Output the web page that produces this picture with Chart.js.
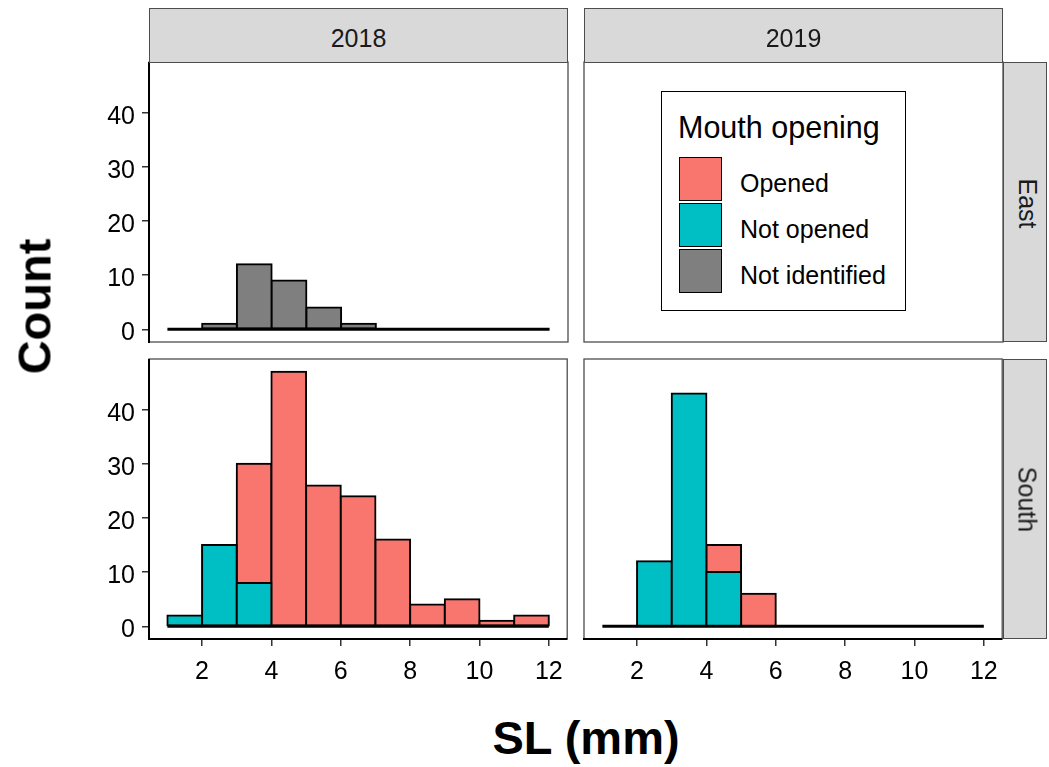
<!DOCTYPE html>
<html><head><meta charset="utf-8">
<script src="https://cdn.jsdelivr.net/npm/chart.js@4/dist/chart.umd.min.js"></script>
<style>
html,body{margin:0;padding:0;background:#fff;}
body{width:1049px;height:767px;position:relative;overflow:hidden;font-family:'Liberation Sans',Arial,sans-serif;}
canvas{position:absolute;}
.strip{position:absolute;background:#d9d9d9;border:1.3px solid #4d4d4d;box-sizing:border-box;}
.txt{position:absolute;white-space:nowrap;}
</style></head><body>
<script>
// ---------- data ----------
const binEdges = [1,2,3,4,5,6,7,8,9,10,11,12];
const years = ['2018','2019'];
const sites = ['East','South'];
const seriesNames = ['Opened','Not opened','Not identified'];
const seriesColors = ['#F8766D','#00BFC4','#7F7F7F'];
const east2018NotIdentified = [0,1,12,9,4,1,0,0,0,0,0];
const south2018Opened    = [0,0,22,47,26,24,16,4,5,1,2];
const south2018NotOpened = [2,15,8,0,0,0,0,0,0,0,0];
const south2019Opened    = [0,0,0,5,6,0,0,0,0,0,0];
const south2019NotOpened = [0,12,43,10,0,0,0,0,0,0,0];
const xTicks = [2,4,6,8,10,12];
const yTicks = [0,10,20,30,40];
const xTitle = 'SL (mm)';
const yTitle = 'Count';
const legendTitle = 'Mouth opening';

// ---------- layout ----------
const colX = [149, 584], rowY = [62, 359], panelW = 419, panelH = 280;
const xMin = 0.47, xMax = 12.53, yMin = -2.35, yMax = 49.35;
const FONT = "'Liberation Sans', Arial, sans-serif";

function addDiv(cls, text, css){
  const d = document.createElement('div');
  d.className = cls; if (text !== null) d.textContent = text;
  Object.assign(d.style, css); document.body.appendChild(d); return d;
}

function hist(values, idx){
  return {
    type:'bar', label: seriesNames[idx],
    data: values.map((v,i)=>({x:(binEdges[i]+binEdges[i+1])/2, y: v===0 ? null : v})),
    backgroundColor: seriesColors[idx], borderColor:'#000', borderWidth:2,
    borderSkipped:false, inflateAmount:1, barPercentage:1, categoryPercentage:1, order:0
  };
}
function baseline(){
  return {type:'line', label:'base',
    data:[{x:binEdges[0],y:0},{x:binEdges[binEdges.length-1],y:0}],
    borderColor:'#000', borderWidth:3, pointRadius:0, order:-1};
}

const panelFrame = {
  id:'panelFrame',
  afterDraw(chart, args, o){
    const {ctx, chartArea:a} = chart;
    ctx.save();
    ctx.strokeStyle = '#4d4d4d'; ctx.lineWidth = 1.3;
    ctx.strokeRect(a.left, a.top, a.right-a.left, a.bottom-a.top);
    ctx.strokeStyle = '#000'; ctx.lineWidth = 2;
    if (o.left){ ctx.beginPath(); ctx.moveTo(a.left, a.top); ctx.lineTo(a.left, a.bottom+1); ctx.stroke(); }
    if (o.bottom){ ctx.beginPath(); ctx.moveTo(a.left-1, a.bottom); ctx.lineTo(a.right, a.bottom); ctx.stroke(); }
    ctx.restore();
  }
};

function makePanel(col, row, datasets){
  const x0 = colX[col], y0 = rowY[row];
  const showY = col === 0, showX = row === 1;
  const L = showY ? x0 : 6, T = 30, R = 6, B = showX ? 62 : 30;
  const cv = document.createElement('canvas');
  cv.width = L + panelW + R; cv.height = T + panelH + B;
  cv.style.left = (x0 - L) + 'px'; cv.style.top = (y0 - T) + 'px';
  cv.style.width = cv.width + 'px'; cv.style.height = cv.height + 'px';
  document.body.appendChild(cv);
  const tickGrid = {display:true, drawOnChartArea:false, drawTicks:true, tickLength:7, color:'#333', lineWidth:1.5, offset:false};
  new Chart(cv, {
    type:'bar',
    data:{datasets},
    options:{
      responsive:false, maintainAspectRatio:false, animation:false, devicePixelRatio:1,
      layout:{padding:{left: showY ? 0 : L, top:T, right:R, bottom: showX ? 0 : B}},
      plugins:{legend:{display:false}, tooltip:{enabled:false}, panelFrame:{left:showY, bottom:showX}},
      scales:{
        x:{type:'linear', min:xMin, max:xMax, offset:false, stacked:true, display:showX,
           afterFit:s=>{ if (showX) s.height = B; },
           afterBuildTicks:s=>{s.ticks = xTicks.map(v=>({value:v}));},
           ticks:{autoSkip:false, maxRotation:0, minRotation:0, padding:11, color:'#000',
                  font:{family:FONT, size:25}, callback:v=>String(v)},
           grid:tickGrid, border:{display:false}},
        y:{type:'linear', min:yMin, max:yMax, stacked:true, display:showY,
           afterFit:s=>{ if (showY) s.width = L; },
           afterBuildTicks:s=>{s.ticks = yTicks.map(v=>({value:v}));},
           ticks:{autoSkip:false, padding:7, labelOffset:4, color:'#000',
                  font:{family:FONT, size:25}, callback:v=>String(v)},
           grid:tickGrid, border:{display:false}}
      }
    },
    plugins:[panelFrame]
  });
}

// panels
makePanel(0, 0, [hist(east2018NotIdentified, 2), baseline()]);
makePanel(1, 0, []);
makePanel(0, 1, [hist(south2018NotOpened, 1), hist(south2018Opened, 0), baseline()]);
makePanel(1, 1, [hist(south2019NotOpened, 1), hist(south2019Opened, 0), baseline()]);

// top strips
years.forEach((y,i)=>{
  addDiv('strip', null, {left:colX[i]+'px', top:'7.5px', width:panelW+'px', height:(rowY[0]-7.5+0.7)+'px'});
  addDiv('txt', y, {left:colX[i]+'px', top:'26px', width:panelW+'px', textAlign:'center',
    font:`25px/25px ${FONT}`, color:'#1a1a1a'});
});
// right strips
sites.forEach((st,i)=>{
  addDiv('strip', null, {left:(colX[1]+panelW-0.5)+'px', top:rowY[i]+'px', width:'44px', height:panelH+'px'});
  const cy = rowY[i] + panelH/2 + (i===0 ? 1.5 : 0);
  addDiv('txt', st, {left:(1026.5-100)+'px', top:(cy-12.5)+'px', width:'200px', height:'25px', textAlign:'center',
    font:`25px/25px ${FONT}`, color:'#1a1a1a', transform:'rotate(90deg)'});
});

// axis titles
addDiv('txt', yTitle, {left:(33.7-150)+'px', top:(306.5-23.5)+'px', width:'300px', height:'47px', textAlign:'center',
  font:`bold 47px/47px ${FONT}`, color:'#000', transform:'rotate(-90deg)'});
addDiv('txt', xTitle, {left:(586-150)+'px', top:'713.5px', width:'300px', height:'47px', textAlign:'center',
  font:`bold 47px/47px ${FONT}`, color:'#000'});

// legend
addDiv('txt', null, {left:'661px', top:'91px', width:'245px', height:'220px', border:'1.5px solid #000', boxSizing:'border-box', background:'#fff'});
addDiv('txt', legendTitle, {left:'678px', top:'111.5px', font:`30.5px/30.5px ${FONT}`, color:'#000'});
const keyTops = [157.3, 203.3, 249.3], labelTops = [171.3, 217.1, 262.6];
seriesNames.forEach((n,i)=>{
  addDiv('txt', null, {left:'679px', top:keyTops[i]+'px', width:'43.3px', height:'43.3px', background:seriesColors[i],
    border:'1.5px solid #000', boxSizing:'border-box'});
  addDiv('txt', n, {left:'740px', top:labelTops[i]+'px', font:`25px/25px ${FONT}`, color:'#000'});
});
</script>
</body></html>
